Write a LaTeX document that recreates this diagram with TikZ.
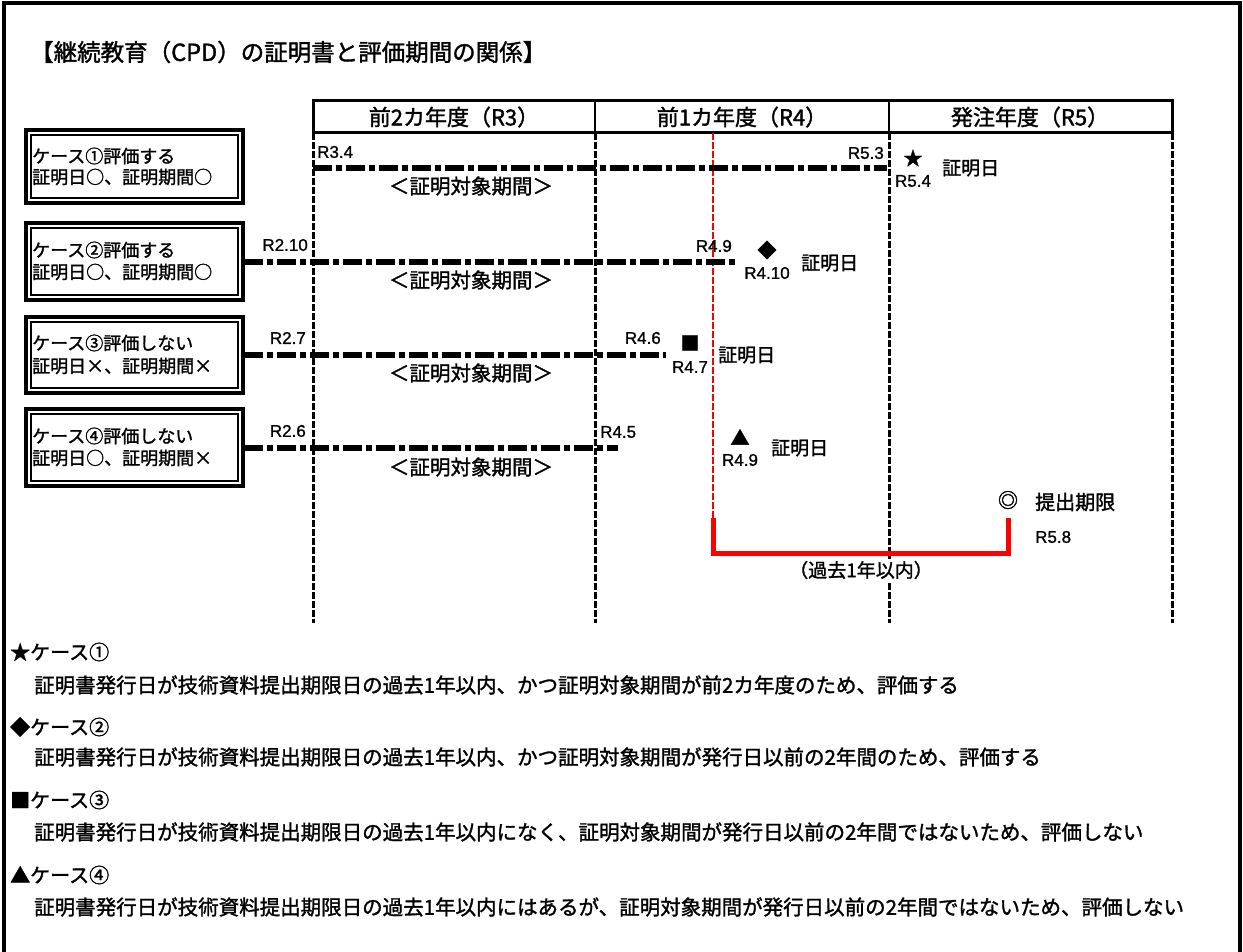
\documentclass[tikz,border=0pt]{standalone}
\usepackage{fontspec}
\setmainfont{Noto Sans CJK JP}[FakeBold=1.5]
\newfontfamily\latinfont{Liberation Sans}[FakeBold=1]
\begin{document}
\begin{tikzpicture}[x=1pt,y=-1pt,
    every node/.style={inner sep=0pt},
    colline/.style={line width=3pt,dash pattern=on 7pt off 2pt},
    redline/.style={red,line width=2.8pt,dash pattern=on 7pt off 2pt},
    period/.style={line width=5.5pt,dash pattern=on 19pt off 4pt on 6pt off 4pt},
    datelbl/.style={font=\latinfont\fontsize{17}{17}\selectfont},
    marklbl/.style={font=\fontsize{19}{19}\selectfont},
    daytext/.style={font=\fontsize{19}{19}\selectfont,anchor=west},
    boxtext/.style={font=\fontsize{18}{18}\selectfont,anchor=west},
    spantext/.style={font=\fontsize{20.5}{20.5}\selectfont},
    notehead/.style={font=\fontsize{20}{20}\selectfont,anchor=west},
    notetext/.style={font=\fontsize{20.5}{20.5}\selectfont,anchor=west}]
\useasboundingbox (0,0) rectangle (1243,952);
% ------ frame and title ------
\draw [line width=3.5pt] (4,952) -- (4,3) -- (1240,3) -- (1240,952);
\node [anchor=west,font=\fontsize{23.5}{23.5}\selectfont] (title) at (30,52) {【継続教育（CPD）の証明書と評価期間の関係】};
% ------ header row ------
\draw [line width=3pt] (313,101) rectangle (1172,133);
\draw [line width=2.5pt] (595,101) -- (595,133) (889,101) -- (889,133);
\node [font=\fontsize{22}{22}\selectfont] (yr3) at (454,117) {前2カ年度（R3）};
\node [font=\fontsize{22}{22}\selectfont] (yr4) at (742,117) {前1カ年度（R4）};
\node [font=\fontsize{22}{22}\selectfont] (yr5) at (1030,117) {発注年度（R5）};
\foreach \x in {313,595,889,1172}
    \draw [colline] (\x,133) -- (\x,623);
\draw [redline] (713,133) -- (713,518);
% ------ case boxes ------
\foreach \t/\b in {130/203,223/300,317/393,409/486} {
    \draw [line width=3.5pt] (26,\t) rectangle (243,\b);
    \draw [line width=1.5pt] (31,{\t+5}) rectangle (238,{\b-5});
}
\node [boxtext] (c1a) at (32,156) {ケース①評価する};
\node [boxtext] (c1b) at (32,177) {証明日○、証明期間○};
\node [boxtext] (c2a) at (32,250) {ケース②評価する};
\node [boxtext] (c2b) at (32,272) {証明日○、証明期間○};
\node [boxtext] (c3a) at (32,343) {ケース③評価しない};
\node [boxtext] (c3b) at (32,366) {証明日×、証明期間×};
\node [boxtext] (c4a) at (32,436) {ケース④評価しない};
\node [boxtext] (c4b) at (32,458) {証明日○、証明期間×};
% ------ periods ------
\coordinate (p1s) at (313,168); \coordinate (p1e) at (887,168);
\coordinate (p2s) at (244,262); \coordinate (p2e) at (737,262);
\coordinate (p3s) at (244,355); \coordinate (p3e) at (666,355);
\coordinate (p4s) at (244,448); \coordinate (p4e) at (618,448);
\draw [period] (p1s) -- (p1e);
\draw [period] (p2s) -- (p2e);
\draw [period] (p3s) -- (p3e);
\draw [period] (p4s) -- (p4e);
\node [spantext] (s1) at (471,186) {＜証明対象期間＞};
\node [spantext] (s2) at (471,280) {＜証明対象期間＞};
\node [spantext] (s3) at (471,373) {＜証明対象期間＞};
\node [spantext] (s4) at (471,467) {＜証明対象期間＞};
\node [datelbl,anchor=west] (d1s) at (317,152) {R3.4};
\node [datelbl,anchor=east] (d1e) at (884,153) {R5.3};
\node [datelbl,anchor=east] (d2s) at (308,245) {R2.10};
\node [datelbl,anchor=east] (d2e) at (732,246) {R4.9};
\node [datelbl,anchor=east] (d3s) at (306,338) {R2.7};
\node [datelbl,anchor=east] (d3e) at (661,338) {R4.6};
\node [datelbl,anchor=east] (d4s) at (306,431) {R2.6};
\node [datelbl,anchor=west] (d4e) at (600,432) {R4.5};
% ------ certificate dates ------
\node [marklbl] (m1) at (913,158) {★};
\node [datelbl] (m1d) at (913,181) {R5.4};
\node [daytext] (m1t) at (942,168) {証明日};
\node [marklbl] (m2) at (767,250) {◆};
\node [datelbl] (m2d) at (767,273) {R4.10};
\node [daytext] (m2t) at (801,263) {証明日};
\node [marklbl] (m3) at (690,343) {■};
\node [datelbl] (m3d) at (690,367) {R4.7};
\node [daytext] (m3t) at (718,355) {証明日};
\node [marklbl] (m4) at (740,437) {▲};
\node [datelbl] (m4d) at (740,460) {R4.9};
\node [daytext] (m4t) at (771,448) {証明日};
% ------ deadline ------
\node [font=\fontsize{20}{20}\selectfont] (dl) at (1008,500) {◎};
\node [daytext,font=\fontsize{20}{20}\selectfont] (dlt) at (1035,502) {提出期限};
\node [datelbl,anchor=west] (dld) at (1035,537) {R5.8};
\draw [red,line width=5pt] (713,518) -- (713,553) -- (1008,553) -- (1008,518);
\node [fill=white,inner sep=2pt,font=\fontsize{19}{19}\selectfont] (yr1) at (861,570) {（過去1年以内）};
% ------ notes ------
\node [notehead] (n1) at (10,652) {★ケース①};
\node [notetext] (n1t) at (34,685) {証明書発行日が技術資料提出期限日の過去1年以内、かつ証明対象期間が前2カ年度のため、評価する};
\node [notehead] (n2) at (10,727) {◆ケース②};
\node [notetext] (n2t) at (34,757) {証明書発行日が技術資料提出期限日の過去1年以内、かつ証明対象期間が発行日以前の2年間のため、評価する};
\node [notehead] (n3) at (10,800) {■ケース③};
\node [notetext] (n3t) at (34,832) {証明書発行日が技術資料提出期限日の過去1年以内になく、証明対象期間が発行日以前の2年間ではないため、評価しない};
\node [notehead] (n4) at (10,875) {▲ケース④};
\node [notetext] (n4t) at (34,907) {証明書発行日が技術資料提出期限日の過去1年以内にはあるが、証明対象期間が発行日以前の2年間ではないため、評価しない};
\end{tikzpicture}
\end{document}
